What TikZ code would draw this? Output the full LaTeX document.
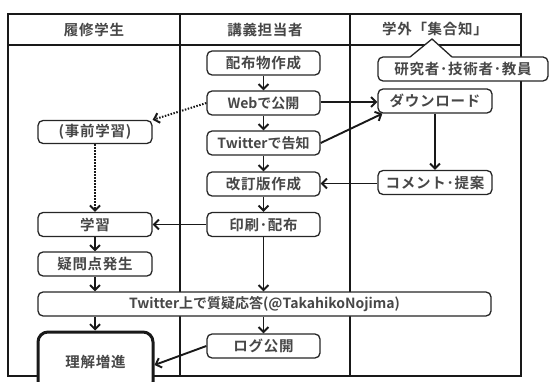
\documentclass[tikz,border=0pt]{standalone}
\usepackage{fontspec}
\newfontfamily\jpfont{Noto Sans CJK JP}[UprightFont={* Bold}, LetterSpace=5]
\newfontfamily\jplat{Noto Sans CJK JP}[UprightFont={* Bold}]
\usetikzlibrary{arrows.meta}
\tikzset{
  box/.style={draw=black!85, line width=1.3pt, rounded corners=5pt, fill=white,
    minimum height=24pt, inner sep=1pt, font=\jpfont\fontsize{14.5}{16}\selectfont, text=black!72},
  latbox/.style={box, font=\jplat\fontsize{14}{16}\selectfont},
  hdr/.style={font=\jpfont\fontsize{14.5}{16}\selectfont, text=black!72, inner sep=0pt},
  arr/.style={draw=black!90, line width=1.9pt, -{Straight Barb[length=5pt,width=10pt]}},
  dotarr/.style={draw=black!90, line width=2pt, dash pattern=on 1.5pt off 1.5pt,
    -{Straight Barb[length=5pt,width=10pt]}},
}
\begin{document}
\begin{tikzpicture}[x=1pt,y=-1pt]
\useasboundingbox (0,0) rectangle (549,382);
\clip (0,0) rectangle (549,382);
% frame
\draw[line width=2.6pt, black!90] (8,14) rectangle (521,376);
\draw[line width=1.6pt, black!90] (8,45) -- (521,45);
\draw[line width=2pt, black!90] (180,14) -- (180,376);
\draw[line width=2pt, black!90] (350,14) -- (350,376);
% headers
\node[hdr] (h1) at (94,30) {履修学生};
\node[hdr] (h2) at (265,30) {講義担当者};
\node[hdr] (h3) at (435,29) {学外「集合知」};
% callout
\node[box, minimum width=170pt] (exp) at (463,69) {研究者･技術者･教員};
\fill[white] (409,58.5) -- (432,39) -- (453,58.5) -- cycle;
\draw[black!85, line width=1.3pt, line join=miter] (410,57) -- (432,39) -- (452,57);
% center column
\node[box, minimum width=113pt] (c1) at (263.5,63) {配布物作成};
\node[latbox, minimum width=113pt] (c2) at (263.5,103) {Webで公開};
\node[latbox, minimum width=113pt] (c3) at (263.5,143) {Twitterで告知};
\node[box, minimum width=113pt] (c4) at (263.5,184) {改訂版作成};
\node[box, minimum width=113pt] (c5) at (263.5,224.5) {印刷･配布};
\node[box, minimum width=113pt] (c6) at (263.5,346) {ログ公開};
% left column
\node[box, minimum width=114pt, minimum height=23pt] (pre) at (95,132) {(事前学習)};
\node[box, minimum width=114pt] (learn) at (95,224.5) {学習};
\node[box, minimum width=114pt] (doubt) at (95,264) {疑問点発生};
\node[latbox, minimum width=453pt] (tw) at (264.5,304) {Twitter上で質疑応答(@TakahikoNojima)};
\node[box, minimum width=115pt, minimum height=60pt, line width=3pt, rounded corners=10pt, draw=black!90] (rikai) at (95.5,362) {理解増進};
% right column
\node[box, minimum width=114pt] (r1) at (435,101) {ダウンロード};
\node[box, minimum width=114pt] (r2) at (435,182.5) {コメント･提案};
% connectors
\draw[arr] (c1.south) -- (c2.north);
\draw[arr] (c2.south) -- (c3.north);
\draw[arr] (c3.south) -- (c4.north);
\draw[arr] (c4.south) -- (c5.north);
\draw[arr] (c5.south) -- (c5.south |- tw.north);
\draw[arr] (c5.south |- tw.south) -- (c6.north);
\draw[arr] (c2.east |- 0,102) -- (r1.west |- 0,102);
\draw[arr] (c3.east) -- ([xshift=5pt]r1.south west);
\draw[arr] (r1.south) -- (r2.north);
\draw[arr] (r2.west |- 0,183.5) -- (c4.east |- 0,183.5);
\draw[dotarr] (c2.west) -- (pre.north east);
\draw[dotarr] (pre.south) -- (learn.north);
\draw[arr] (c5.west) -- (learn.east);
\draw[arr] (learn.south) -- (doubt.north);
\draw[arr] (doubt.south) -- (doubt.south |- tw.north);
\draw[arr] (doubt.south |- tw.south) -- (rikai.north -| doubt.south);
\draw[arr] (c6.west) -- ([yshift=-3pt]rikai.east);
\end{tikzpicture}
\end{document}
